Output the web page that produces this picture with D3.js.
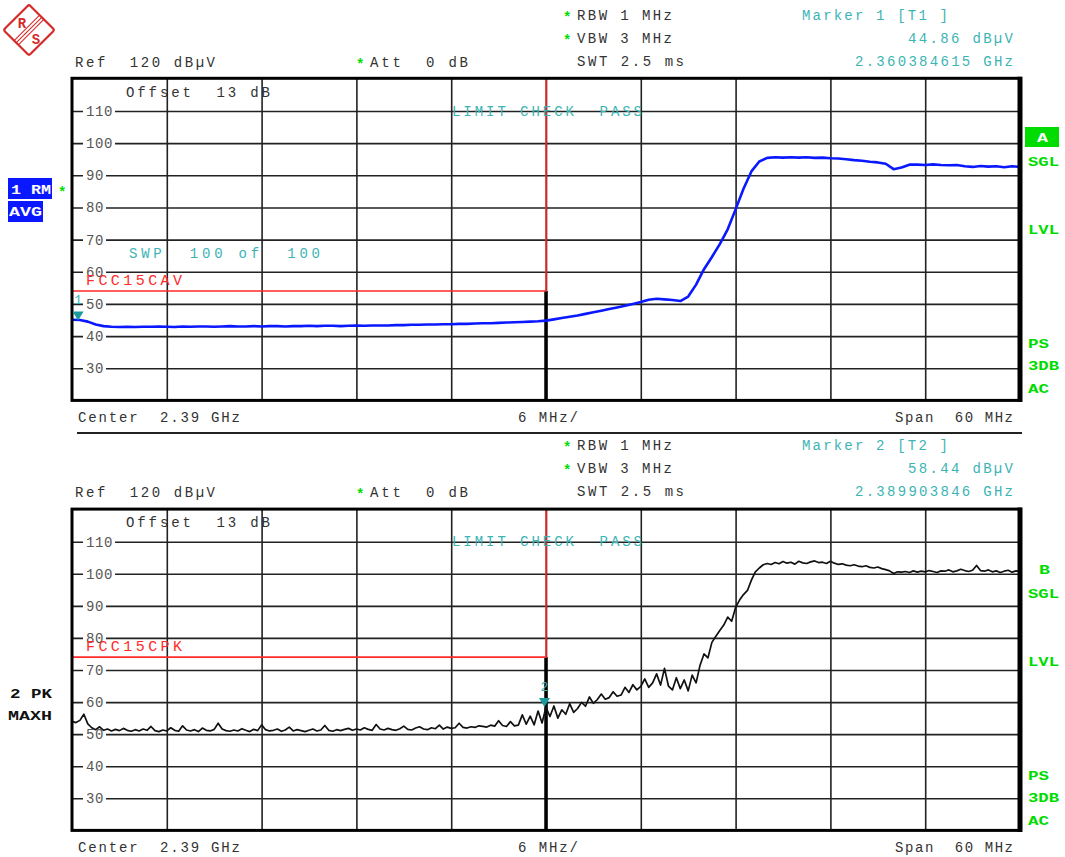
<!DOCTYPE html>
<html>
<head>
<meta charset="utf-8">
<script src="https://cdn.jsdelivr.net/npm/d3@7"></script>
<style>
  body { margin: 0; background: #fff; }
  svg { display: block; }
  text { font-family: "Liberation Mono", "DejaVu Sans Mono", monospace; }
</style>
</head>
<body>
<svg id="chart" width="1065" height="857"></svg>
<script>
// sweep: 2.36 .. 2.42 GHz, levels in dBuV
const startMHz = 2360, stopMHz = 2420;
const gridFreqs = [2366, 2372, 2378, 2384, 2390, 2396, 2402, 2408, 2414];
const bandEdge = 2390;
const levelTicks = [30, 40, 50, 60, 70, 80, 90, 100, 110];

// trace 1, RMS average, one point per 0.5 MHz
const avgStep = 0.5;
const avgTrace = [
  45.1, 45.0, 44.5, 43.6, 43.1, 42.9, 42.8, 42.9, 42.8, 42.9,
  42.9, 43.0, 42.9, 42.8, 43.0, 42.9, 43.0, 43.0, 42.9, 43.0,
  43.1, 43.0, 43.0, 43.1, 43.0, 43.1, 43.1, 43.0, 43.1, 43.1,
  43.2, 43.1, 43.2, 43.2, 43.1, 43.2, 43.3, 43.2, 43.3, 43.3,
  43.3, 43.4, 43.4, 43.5, 43.5, 43.6, 43.6, 43.7, 43.7, 43.8,
  43.8, 43.9, 44.0, 44.0, 44.1, 44.2, 44.3, 44.4, 44.5, 44.6,
  44.8, 45.2, 45.6, 46.0, 46.4, 46.9, 47.4, 47.9, 48.4, 48.9,
  49.4, 50.0, 50.6, 51.3, 51.6, 51.4, 51.2, 50.9, 52.3, 56.0,
  60.8, 64.6, 68.6, 73.2, 79.4, 85.8, 91.2, 94.3, 95.4, 95.6,
  95.5, 95.6, 95.5, 95.6, 95.4, 95.5, 95.3, 95.2, 95.0, 94.7,
  94.5, 94.2, 94.0, 93.6, 91.9, 92.4, 93.3, 93.3, 93.2, 93.4,
  93.2, 93.1, 93.2, 92.8, 92.6, 92.9, 92.7, 92.8, 92.5, 92.8,
  92.6
];

// trace 2, peak max hold, one point per 0.25 MHz
const pkStep = 0.25;
const pkTrace = [
  54.0, 53.6, 54.3, 56.2, 53.2, 52.0, 51.4, 52.3, 51.2, 51.6,
  51.0, 51.5, 51.1, 51.8, 51.2, 50.9, 51.4, 51.0, 51.6, 51.2,
  52.4, 51.1, 50.8, 51.3, 51.0, 52.0, 51.2, 50.9, 52.6, 51.3,
  51.0, 51.4, 50.8, 51.9, 51.2, 51.0, 51.5, 53.4, 51.6, 51.1,
  50.9, 51.3, 51.0, 51.7, 51.2, 50.8, 51.5, 51.1, 52.9, 51.4,
  51.0, 51.2, 51.6, 50.9, 51.3, 52.2, 51.0, 51.4, 51.1, 50.8,
  51.2, 51.6, 51.0, 51.3, 52.7, 51.2, 50.9, 51.4, 51.1, 51.5,
  51.8, 51.2, 51.6, 51.3, 52.0, 51.5, 51.2, 53.0, 51.6, 51.3,
  51.8, 51.4, 51.2, 51.7, 52.5, 51.5, 51.3, 51.9, 52.3, 51.6,
  51.4, 52.0, 51.7, 52.8, 51.6, 52.2, 51.8, 52.0, 53.4, 52.1,
  51.9, 52.3, 52.1, 52.6, 52.4, 52.2, 52.8, 52.5, 54.2, 52.7,
  52.4, 53.9, 52.6, 52.8, 56.0, 53.1, 55.6, 52.9, 57.2, 53.5,
  58.4, 55.5, 58.8, 55.0, 57.6, 56.2, 59.5, 56.8, 58.0, 59.9,
  58.7, 61.6, 59.6, 60.8, 62.5, 60.9, 61.4, 63.2, 61.8, 62.2,
  64.6, 63.0, 65.4, 63.8, 64.9, 67.2, 64.6, 66.0, 68.8, 65.3,
  70.5, 65.0, 63.8, 67.6, 64.2, 66.9, 63.5, 68.4, 66.0, 71.5,
  75.0, 73.8, 78.6, 80.5, 82.3, 84.0, 86.5, 85.2, 89.5, 91.8,
  93.5, 94.8, 98.0, 100.6, 101.8, 102.8, 103.2, 102.9, 103.5, 103.1,
  103.8, 103.3, 103.6, 103.0, 103.9, 103.4, 103.2, 103.7, 104.0, 103.5,
  103.6, 103.2, 103.9, 103.3, 102.9, 103.1, 102.7, 102.5, 102.8, 102.4,
  102.2, 102.5, 102.0, 101.8, 102.1, 101.6, 101.3, 100.9, 100.1, 100.6,
  100.5, 100.7, 100.4, 100.9, 100.5, 100.8, 100.6, 101.0, 100.7, 100.4,
  100.9, 100.8, 101.2, 100.6, 100.9, 101.4, 101.0, 100.7, 101.1, 102.6,
  101.0, 100.8, 101.2, 100.6, 100.9, 100.4, 100.8, 101.1, 100.5, 100.9,
  100.7
];

const limitLevels = [54, 74];
const limitNames = ["FCC15CAV", "FCC15CPK"];
const markerFreqs = [2360.384615, 2389.903846];
const markerLevels = [44.86, 58.44];
const settingsLines = ["RBW 1 MHz", "VBW 3 MHz", "SWT 2.5 ms"];
const footerText = ["Center  2.39 GHz", "6 MHz/", "Span  60 MHz"];
const sideFlags = ["SGL", "LVL", "PS", "3DB", "AC"];

const svg = d3.select("#chart");
const x = d3.scaleLinear([startMHz, stopMHz], [72, 1020]);

const GREEN = "#00dc00", TEAL = "#3cb4b4", RED = "#ff2a2a", INK = "#333";

function label(g, px, py, s, o = {}) {
  const t = g.append("text")
    .attr("x", px).attr("y", py)
    .attr("xml:space", "preserve")
    .style("white-space", "pre")
    .attr("fill", o.fill || INK)
    .attr("font-size", o.size || 14)
    .attr("text-anchor", o.anchor || "start")
    .text(s);
  if (o.bold) t.attr("font-weight", "bold");
  if (o.serif) t.attr("font-family", "Liberation Serif");
  if (o.w) t.attr("textLength", o.w).attr("lengthAdjust", o.stretch ? "spacingAndGlyphs" : "spacing");
  return t;
}

// small bold status flags (wide serif look)
function flag(g, px, py, s, w, fill) {
  return label(g, px, py, s, { fill, size: 12, bold: true, serif: true, w, stretch: true });
}

function drawPanel(p) {
  const g = svg.append("g");
  const y = d3.scaleLinear([20, 120], [p.y20, p.y120]);
  const dy = p.dy;

  // vertical grid
  g.append("g")
    .attr("transform", `translate(0,${p.y120})`)
    .call(d3.axisBottom(x).tickValues(gridFreqs).tickSize(p.y20 - p.y120).tickFormat(""))
    .call(s => s.select(".domain").remove())
    .selectAll("line").attr("stroke", "#222").attr("stroke-width", 1.6);

  // horizontal grid
  g.append("g")
    .attr("transform", "translate(72,0)")
    .call(d3.axisRight(y).tickValues(levelTicks).tickSize(948).tickFormat(""))
    .call(s => s.select(".domain").remove())
    .selectAll("line").attr("stroke", "#222").attr("stroke-width", 1.6);

  // level labels knocked out of the grid
  const lab = g.append("g");
  levelTicks.forEach(v => {
    const t = label(lab, 86, y(v) + 5, String(v), { fill: "#555", size: 14 })
      .attr("letter-spacing", 0.6);
    const b = t.node().getBBox();
    lab.insert("rect", "text:last-of-type")
      .attr("x", b.x - 3).attr("y", y(v) - 2)
      .attr("width", b.width + 5).attr("height", 4)
      .attr("fill", "#fff");
  });

  // thick centre line under the limit
  g.append("line")
    .attr("x1", x(bandEdge)).attr("x2", x(bandEdge))
    .attr("y1", y(p.limit)).attr("y2", p.y20)
    .attr("stroke", "#000").attr("stroke-width", 3.5);

  // limit line
  g.append("path")
    .attr("d", d3.line()([[72, y(p.limit)], [x(bandEdge), y(p.limit)], [x(bandEdge), p.y120]]))
    .attr("fill", "none").attr("stroke", RED).attr("stroke-width", 1.6);
  label(g, 86, y(p.limit) - 6, p.limitName, { fill: RED, size: 15, w: 96 });

  // trace
  const line = d3.line()
    .x((d, i) => x(startMHz + i * p.step))
    .y(d => y(d));
  g.append("path")
    .datum(p.trace)
    .attr("d", line)
    .attr("fill", "none")
    .attr("stroke", p.color)
    .attr("stroke-width", p.width)
    .attr("stroke-linejoin", "round");

  // frame
  g.append("rect")
    .attr("x", 72).attr("y", p.y120 - 0.5)
    .attr("width", 948).attr("height", p.y20 - p.y120 + 0.5)
    .attr("fill", "none").attr("stroke", "#000").attr("stroke-width", 3);
  g.append("line")
    .attr("x1", 1020).attr("x2", 1020).attr("y1", p.y120 - 2).attr("y2", p.y20 + 1.5)
    .attr("stroke", "#000").attr("stroke-width", 5);

  // marker
  const mx = x(p.mFreq), my = y(p.mLevel);
  g.append("path")
    .attr("d", d3.line()([[mx - 5.5, my - 9], [mx + 5.5, my - 9], [mx, my]]) + "Z")
    .attr("fill", "#1a9a9a");
  label(g, mx, my - 16, String(p.mNo), { fill: TEAL, size: 13, anchor: "middle" });

  // header
  settingsLines.forEach((s, i) => {
    label(g, 577, 20 + dy + i * 23, s, { w: i === 2 ? 107 : 95, size: 14 });
    if (i < 2) label(g, 563, 22 + dy + i * 23, "*", { fill: GREEN, size: 14, bold: true });
  });
  label(g, 802, 20 + dy, `Marker ${p.mNo} [T${p.mNo} ]`, { fill: TEAL, w: 146, size: 14 });
  label(g, 1013, 43 + dy, d3.format(".2f")(p.mLevel) + " dBµV", { fill: TEAL, w: 105, size: 14, anchor: "end" });
  label(g, 1013, 66 + dy, d3.format(".9f")(p.mFreq / 1000) + " GHz", { fill: TEAL, w: 158, size: 14, anchor: "end" });
  label(g, 75, 67 + dy, "Ref  120 dBµV", { w: 140, size: 14 });
  label(g, 356, 69 + dy, "*", { fill: GREEN, size: 14, bold: true });
  label(g, 370, 67 + dy, "Att  0 dB", { w: 98, size: 14 });

  label(g, 126, 97 + dy, "Offset  13 dB", { w: 144, size: 14 });
  label(g, 452, 116 + dy, "LIMIT CHECK  PASS", { fill: TEAL, w: 190, size: 14 });
  if (p.sweepNote) label(g, 129, 258, p.sweepNote, { fill: TEAL, w: 191, size: 14 });

  // footer
  label(g, 78, 422 + dy, footerText[0], { w: 162, size: 14 });
  label(g, 518, 422 + dy, footerText[1], { w: 60, size: 14 });
  label(g, 1013, 422 + dy, footerText[2], { w: 118, size: 14, anchor: "end" });

  // right side flags
  const flagY = [166, 234, 348, 370, 393];
  const off = p.boxed ? 0 : 2;
  if (p.boxed) {
    g.append("rect").attr("x", 1025).attr("y", 127).attr("width", 34).attr("height", 20).attr("fill", GREEN);
    flag(g, 1037, 142, p.tag, 11, "#fff");
  } else {
    flag(g, 1039, 142 + dy + off, p.tag, 11, GREEN);
  }
  sideFlags.forEach((s, i) => {
    flag(g, 1028, flagY[i] + dy + off, s, s.length === 2 ? 21 : 31, GREEN);
  });
}

drawPanel({
  y120: 78.8, y20: 400.4, dy: 0,
  trace: avgTrace, step: avgStep, color: "#0a18ff", width: 2.6,
  limit: limitLevels[0], limitName: limitNames[0],
  mFreq: markerFreqs[0], mLevel: markerLevels[0], mNo: 1,
  sweepNote: "SWP  100 of  100", tag: "A", boxed: true
});
drawPanel({
  y120: 509.6, y20: 830.4, dy: 430,
  trace: pkTrace, step: pkStep, color: "#111", width: 1.7,
  limit: limitLevels[1], limitName: limitNames[1],
  mFreq: markerFreqs[1], mLevel: markerLevels[1], mNo: 2,
  sweepNote: null, tag: "B", boxed: false
});

// separator between the two screens
svg.append("line").attr("x1", 77).attr("x2", 1022).attr("y1", 433).attr("y2", 433)
  .attr("stroke", "#222").attr("stroke-width", 2);

// trace labels on the left
svg.append("rect").attr("x", 8).attr("y", 178).attr("width", 44).attr("height", 21).attr("fill", "#0a18ff");
svg.append("rect").attr("x", 8).attr("y", 201).attr("width", 35).attr("height", 21).attr("fill", "#0a18ff");
flag(svg, 11, 194, "1 RM", 40, "#fff");
flag(svg, 9, 216, "AVG", 33, "#fff");
label(svg, 58, 197, "*", { fill: GREEN, size: 14, bold: true });
flag(svg, 10, 698, "2 PK", 42, "#111");
flag(svg, 8, 720, "MAXH", 44, "#111");

// R&S logo
const logo = svg.append("g").attr("transform", "translate(29,30)");
const dia = logo.append("g").attr("transform", "rotate(45)");
dia.append("rect").attr("x", -18).attr("y", -18).attr("width", 36).attr("height", 36)
  .attr("rx", 2).attr("fill", "#fff").attr("stroke", "#d42a2a").attr("stroke-width", 2.2);
[-3, 0, 3].forEach(o => {
  dia.append("line").attr("x1", o).attr("x2", o).attr("y1", -18).attr("y2", 18)
    .attr("stroke", "#d42a2a").attr("stroke-width", 1.1);
});
logo.append("text").attr("x", -7).attr("y", -2).attr("text-anchor", "middle")
  .attr("font-family", "Liberation Sans").attr("font-weight", "bold")
  .attr("font-size", 14).attr("fill", "#d42a2a").text("R");
logo.append("text").attr("x", 7).attr("y", 14).attr("text-anchor", "middle")
  .attr("font-family", "Liberation Sans").attr("font-weight", "bold")
  .attr("font-size", 14).attr("fill", "#d42a2a").text("S");
</script>
</body>
</html>
